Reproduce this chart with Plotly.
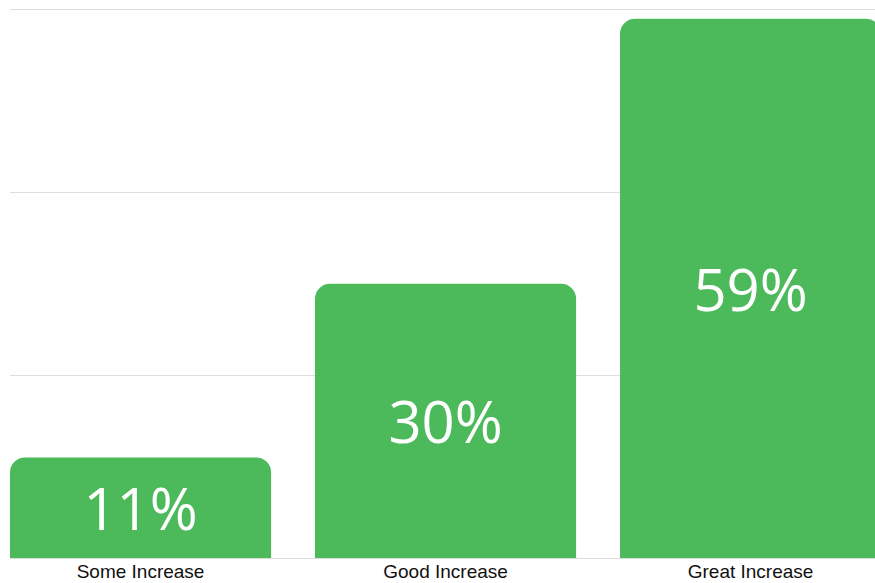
import plotly.graph_objects as go

categories = ["Some Increase", "Good Increase", "Great Increase"]
values = [11, 30, 59]
labels = ["11%", "30%", "59%"]
grid_values = [0, 20, 40, 60]

fig = go.Figure(go.Bar(
    x=categories,
    y=values,
    text=labels,
    textposition="inside",
    insidetextanchor="middle",
    textfont=dict(family="Open Sans", size=58, color="white"),
    marker=dict(color="#4cba5a", cornerradius=15, line=dict(width=0)),
    hoverinfo="skip",
))

fig.update_layout(
    width=875, height=583,
    margin=dict(l=10, r=0, t=6, b=25),
    paper_bgcolor="white", plot_bgcolor="white",
    bargap=0.144,
    showlegend=False,
    xaxis=dict(range=[-0.428, 2.408], showgrid=False, showline=False, ticks="",
               tickfont=dict(family="Liberation Sans, Arial", size=19, color="#111"),
               fixedrange=True),
    yaxis=dict(range=[0, 60.4], tickvals=grid_values, showgrid=True, gridcolor="#dddddd", gridwidth=1,
               zeroline=True, zerolinecolor="#dddddd", zerolinewidth=1,
               showticklabels=False, ticks="", showline=False, fixedrange=True),
)

fig.write_html(
    "out.html",
    config={"displayModeBar": False},
    post_script="document.body.style.margin='0';document.body.style.overflow='hidden';",
)
